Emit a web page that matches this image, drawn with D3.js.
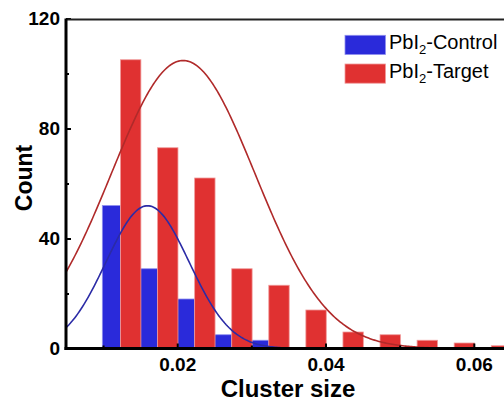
<!DOCTYPE html>
<html>
<head>
<meta charset="utf-8">
<script src="https://cdn.jsdelivr.net/npm/d3@7"></script>
<style>
  html, body { margin: 0; padding: 0; background: #fff; overflow: hidden; }
  svg { display: block; font-family: "Liberation Sans", Arial, Helvetica, sans-serif; }
</style>
</head>
<body>
<svg id="chart" width="504" height="401"></svg>
<script>
// ---- data ----
const binCenters = [0.0125, 0.0175, 0.0225, 0.0275, 0.0325, 0.0375, 0.0425, 0.0475, 0.0525, 0.0575, 0.0625];
const controlCounts = [52, 29, 18, 5, 3];
const targetCounts = [105, 73, 62, 29, 23, 14, 6, 5, 3, 2, 1];
// Gaussian fit parameters [amplitude, center, sigma]
const controlFit = [51.9, 0.0160, 0.0056];
const targetFit = [104.7, 0.0208, 0.0097];
const xTicks = [0.02, 0.04, 0.06];
const xMinorTicks = [0.01, 0.03, 0.05];
const yTicks = [0, 40, 80, 120];
const yMinorTicks = [20, 60, 100];
const seriesNames = ["Control", "Target"];

// ---- layout ----
const W = 504, H = 401;
const mLeft = 66, mTop = 18.5, mBottom = 348.5;
const x = d3.scaleLinear().domain([0.005, 0.065]).range([mLeft, mLeft + 0.06 * 7415]);
const y = d3.scaleLinear().domain([0, 120]).range([mBottom, mTop]);

const colors = { Control: "#2a2ada", Target: "#e03131" };
const strokes = { Control: "#8f8fee", Target: "#f09a9a" };
const fitColors = { Control: "#2b2ba6", Target: "#b02a2a" };

const svg = d3.select("#chart");

svg.append("defs").append("clipPath").attr("id", "plotclip")
  .append("rect").attr("x", mLeft).attr("y", mTop).attr("width", W - mLeft + 20).attr("height", mBottom - mTop);

const plot = svg.append("g").attr("clip-path", "url(#plotclip)");

// bars
const blueW = 0.00245, redW = 0.00275, off = 0.00015;
plot.selectAll("rect.control").data(controlCounts).enter().append("rect")
  .attr("class", "control")
  .attr("x", (d, i) => x(binCenters[i] - off - blueW))
  .attr("width", (d, i) => x(binCenters[i] - off) - x(binCenters[i] - off - blueW))
  .attr("y", d => y(d))
  .attr("height", d => y(0) - y(d))
  .attr("fill", colors.Control)
  .attr("stroke", strokes.Control).attr("stroke-width", 0.8);

plot.selectAll("rect.target").data(targetCounts).enter().append("rect")
  .attr("class", "target")
  .attr("x", (d, i) => x(binCenters[i] - off))
  .attr("width", (d, i) => x(binCenters[i] - off + redW) - x(binCenters[i] - off))
  .attr("y", d => y(d))
  .attr("height", d => y(0) - y(d))
  .attr("fill", colors.Target)
  .attr("stroke", strokes.Target).attr("stroke-width", 0.8);

// fit curves
const xs = d3.range(0.005, 0.0651, 0.0002);
function gauss(p) { return v => p[0] * Math.exp(-((v - p[1]) ** 2) / (2 * p[2] * p[2])); }
const line = d3.line().x(d => x(d[0])).y(d => y(d[1]));
[["Target", targetFit], ["Control", controlFit]].forEach(([name, p]) => {
  const g = gauss(p);
  plot.append("path")
    .attr("d", line(xs.map(v => [v, g(v)])))
    .attr("fill", "none")
    .attr("stroke", fitColors[name])
    .attr("stroke-width", 1.6);
});

// axes
const fmtX = d3.format(".2f");
const xAxis = svg.append("g").attr("transform", `translate(0,${mBottom})`)
  .call(d3.axisBottom(x).tickValues(xTicks).tickSize(-5).tickPadding(9).tickFormat(fmtX));
const xMinor = svg.append("g").attr("transform", `translate(0,${mBottom})`)
  .call(d3.axisBottom(x).tickValues(xMinorTicks).tickSize(-3).tickFormat(""));
const yAxis = svg.append("g").attr("transform", `translate(${mLeft},0)`)
  .call(d3.axisLeft(y).tickValues(yTicks).tickSize(-5).tickPadding(6));
const yMinor = svg.append("g").attr("transform", `translate(${mLeft},0)`)
  .call(d3.axisLeft(y).tickValues(yMinorTicks).tickSize(-3).tickFormat(""));

[xAxis, xMinor, yAxis, yMinor].forEach(a => {
  a.select(".domain").remove();
  a.selectAll(".tick line").attr("stroke", "#000").attr("stroke-width", 2);
  a.selectAll(".tick text").attr("fill", "#000").attr("font-size", "19px").attr("font-weight", "bold")
    .attr("font-family", "'Liberation Sans', Arial, sans-serif");
});

// frame
svg.append("line").attr("x1", mLeft).attr("x2", W + 5).attr("y1", 19.5).attr("y2", 19.5)
  .attr("stroke", "#222").attr("stroke-width", 2);
svg.append("line").attr("x1", mLeft).attr("x2", mLeft).attr("y1", 18.5).attr("y2", mBottom + 1.5)
  .attr("stroke", "#000").attr("stroke-width", 3);
svg.append("line").attr("x1", mLeft - 1.5).attr("x2", W + 5).attr("y1", mBottom).attr("y2", mBottom)
  .attr("stroke", "#000").attr("stroke-width", 3);

// axis titles
svg.append("text").attr("x", 288).attr("y", 396.5).attr("text-anchor", "middle")
  .attr("font-size", "24px").attr("font-weight", "bold").text("Cluster size");
svg.append("text").attr("transform", "translate(32,178) rotate(-90)").attr("text-anchor", "middle")
  .attr("font-size", "23px").attr("font-weight", "bold").text("Count");

// legend
const legend = svg.append("g");
seriesNames.forEach((name, i) => {
  const yy = 35.3 + i * 28.7;
  legend.append("rect").attr("x", 345).attr("y", yy).attr("width", 40.5).attr("height", 19.2)
    .attr("fill", colors[name]).attr("stroke", strokes[name]).attr("stroke-width", 0.8);
  const t = legend.append("text").attr("x", 389).attr("y", yy + 13.6).attr("font-size", "20px").attr("fill", "#000");
  t.append("tspan").text("PbI");
  t.append("tspan").attr("font-size", "13px").attr("dy", 5).text("2");
  t.append("tspan").attr("dy", -5).text("-" + name);
});
</script>
</body>
</html>
